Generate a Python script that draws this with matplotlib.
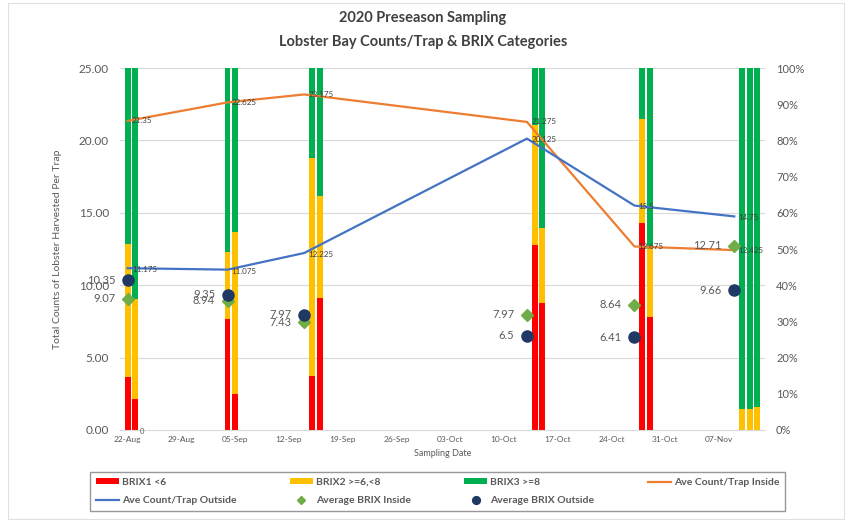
import datetime as dt
import matplotlib
matplotlib.use("Agg")
import matplotlib.pyplot as plt
import matplotlib.dates as mdates
from matplotlib.patches import Rectangle

plt.rcParams['font.family'] = ['Lato', 'DejaVu Sans']

# sampling dates for lines / markers
line_dates = [dt.date(2020, 8, 22), dt.date(2020, 9, 4), dt.date(2020, 9, 14),
              dt.date(2020, 10, 13), dt.date(2020, 10, 27), dt.date(2020, 11, 9)]
count_inside = [21.35, 22.625, 23.175, 21.275, 12.675, 12.425]
count_outside = [11.175, 11.075, 12.225, 20.125, 15.5, 14.75]
brix_inside = [9.07, 8.94, 7.43, 7.97, 8.64, 12.71]
brix_outside = [10.35, 9.35, 7.97, 6.5, 6.41, 9.66]

# BRIX category shares per trap sample (100% stacked)
bar_dates = [dt.date(2020, 8, 22), dt.date(2020, 8, 23), dt.date(2020, 9, 4),
             dt.date(2020, 9, 5), dt.date(2020, 9, 15), dt.date(2020, 9, 16),
             dt.date(2020, 10, 14), dt.date(2020, 10, 15), dt.date(2020, 10, 28),
             dt.date(2020, 10, 29), dt.date(2020, 11, 10), dt.date(2020, 11, 11),
             dt.date(2020, 11, 12)]
brix1 = [0.147, 0.086, 0.307, 0.099, 0.149, 0.365, 0.511, 0.351, 0.572, 0.312, 0.0, 0.0, 0.0]
brix2 = [0.367, 0.276, 0.185, 0.448, 0.602, 0.281, 0.332, 0.207, 0.287, 0.194, 0.058, 0.058, 0.064]
brix3 = [1 - a - b for a, b in zip(brix1, brix2)]

week_ticks = [dt.date(2020, 8, 22) + dt.timedelta(days=7 * i) for i in range(12)]

RED = '#FF0000'
YEL = '#FFC000'
GRN = '#00B050'
ORG = '#ED7D31'
BLU = '#4472C4'
DIA = '#70AD47'
NAV = '#1F3864'
TXT = '#595959'

fig = plt.figure(figsize=(8.46, 5.21), dpi=100)
ax = fig.add_axes([120 / 846, 91 / 521, 645 / 846, 362 / 521])
ax2 = ax.twinx()

# bars on the percentage axis (drawn beneath)
bx = mdates.date2num(bar_dates)
w = 0.75
ax.bar(bx, brix1, width=w, color=RED, label='BRIX1 <6', zorder=2)
ax.bar(bx, brix2, width=w, bottom=brix1, color=YEL, label='BRIX2 >=6,<8', zorder=2)
ax.bar(bx, brix3, width=w, bottom=[a + b for a, b in zip(brix1, brix2)],
       color=GRN, label='BRIX3 >=8', zorder=2)
for g in [0.2, 0.4, 0.6, 0.8, 1.0]:
    ax.axhline(g, color='#D9D9D9', lw=0.8, zorder=0)
ax.set_ylim(0, 1)
ax.set_yticks([i / 10 for i in range(11)])
ax.set_yticklabels([f'{i * 10}%' for i in range(11)])
ax.yaxis.tick_right()
ax.tick_params(axis='y', length=0, pad=8, labelsize=8, labelcolor=TXT)

lx = mdates.date2num(line_dates)
l_in, = ax2.plot(lx, count_inside, color=ORG, lw=1.6, label='Ave Count/Trap Inside', zorder=3)
l_out, = ax2.plot(lx, count_outside, color=BLU, lw=1.6, label='Ave Count/Trap Outside', zorder=3)
m_in, = ax2.plot(lx, brix_inside, ls='none', marker='D', ms=6, color=DIA,
                 label='Average BRIX Inside', zorder=4)
m_out, = ax2.plot(lx, brix_outside, ls='none', marker='o', ms=8, color=NAV,
                  label='Average BRIX Outside', zorder=4)
ax2.set_ylim(0, 25)
ax2.set_yticks([0, 5, 10, 15, 20, 25])
ax2.set_yticklabels([f'{v:.2f}' for v in [0, 5, 10, 15, 20, 25]])
ax2.yaxis.tick_left()
ax2.yaxis.set_label_position('left')
ax2.tick_params(axis='y', length=0, pad=8, labelsize=8.5, labelcolor=TXT)
ax2.set_ylabel('Total Counts of Lobster Harvested Per Trap', fontsize=7.5, color=TXT, labelpad=12)

# data labels for lines
for x, v in zip(lx, count_inside):
    ax2.annotate(f'{v:g}', (x, v), xytext=(3, 0), textcoords='offset points',
                 fontsize=5.8, color='#404040', va='center', ha='left', zorder=6)
for x, v in zip(lx, count_outside):
    ax2.annotate(f'{v:g}', (x, v), xytext=(3, -1), textcoords='offset points',
                 fontsize=5.8, color='#404040', va='center', ha='left', zorder=6)
# data labels for markers
for x, v in zip(lx, brix_inside):
    ax2.annotate(f'{v:g}', (x, v), xytext=(-9, 0), textcoords='offset points',
                 fontsize=8, color=TXT, va='center', ha='right')
for x, v in zip(lx, brix_outside):
    ax2.annotate(f'{v:g}', (x, v), xytext=(-9, 0), textcoords='offset points',
                 fontsize=8, color=TXT, va='center', ha='right')
ax2.annotate('0', (mdates.date2num(dt.date(2020, 8, 23)), 0), xytext=(3, -1),
             textcoords='offset points', fontsize=5.5, color=TXT, va='center')

ax.set_xlim(mdates.date2num(dt.date(2020, 8, 21)), mdates.date2num(dt.date(2020, 11, 13)))
ax.set_xticks(mdates.date2num(week_ticks))
ax.xaxis.set_major_formatter(mdates.DateFormatter('%d-%b'))
ax.tick_params(axis='x', length=0, pad=4, labelsize=6, labelcolor=TXT)
ax.set_xlabel('Sampling Date', fontsize=6.5, color=TXT, labelpad=5)

for a in (ax, ax2):
    for s in ('top', 'left', 'right'):
        a.spines[s].set_visible(False)
    a.spines['bottom'].set_color('#D9D9D9')
ax2.spines['bottom'].set_visible(False)

fig.text(0.5, 1 - 18 / 521, '2020 Preseason Sampling', ha='center', va='center',
         fontsize=10.5, fontweight='bold', color='#404040')
fig.text(0.5, 1 - 42 / 521, 'Lobster Bay Counts/Trap & BRIX Categories', ha='center', va='center',
         fontsize=10.5, fontweight='bold', color='#404040')

h, lab = ax.get_legend_handles_labels()
handles = [h[0], l_out, h[1], m_in, h[2], m_out, l_in]
labels = [lab[0], l_out.get_label(), lab[1], m_in.get_label(), lab[2], m_out.get_label(), l_in.get_label()]
leg = fig.legend(handles, labels, loc='lower left', ncol=4, mode='expand',
                 bbox_to_anchor=(90 / 846, 10 / 521, 695 / 846, 41 / 521),
                 fontsize=7.5, frameon=True, fancybox=False, edgecolor='#7F7F7F',
                 handlelength=2.2, handleheight=0.5, handletextpad=0.3, markerscale=0.7,
                 borderaxespad=0, labelspacing=0.9, borderpad=0.55)
for t in leg.get_texts():
    t.set_fontweight('bold')
    t.set_color(TXT)

fig.patches.append(Rectangle((8 / 846, 2 / 521), 836 / 846, 516 / 521, transform=fig.transFigure,
                             fill=False, edgecolor='#E0E0E0', lw=0.8))

fig.savefig('out.png', dpi=100)
